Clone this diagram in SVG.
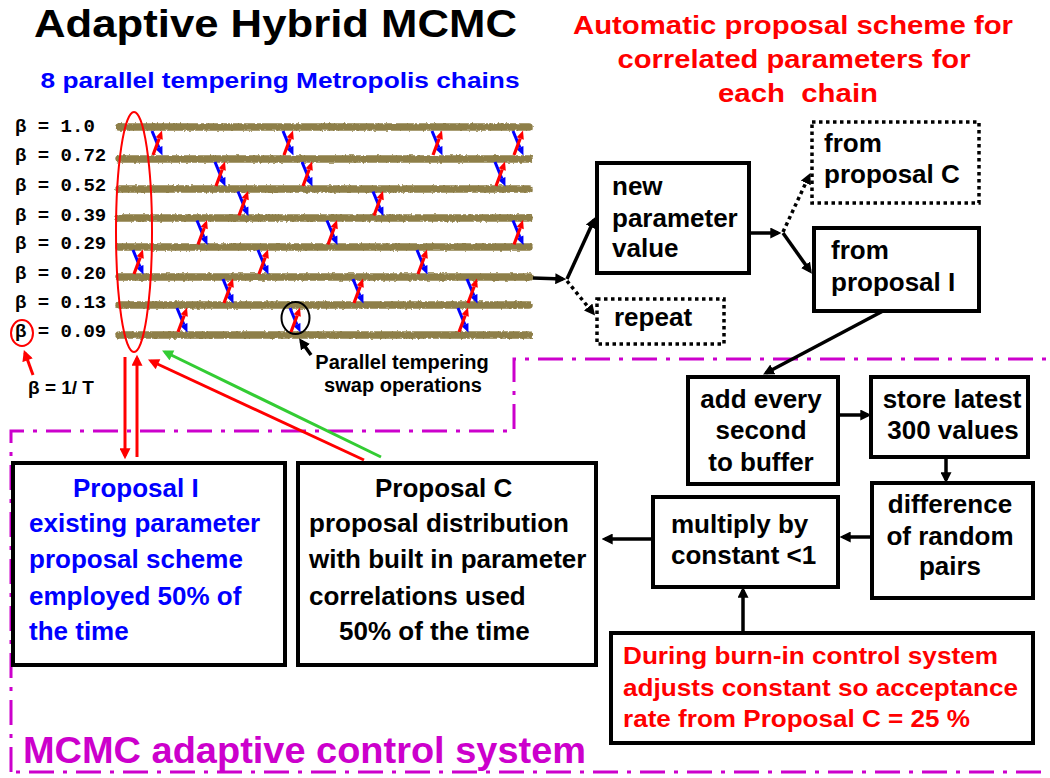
<svg xmlns="http://www.w3.org/2000/svg" width="1050" height="778" viewBox="0 0 1050 778">
  <style>
    text { font-family: "Liberation Sans", Arial, sans-serif; font-weight: bold; }
    .box { fill: #fff; stroke: #000; stroke-width: 4; }
    .dotbox { fill: #fff; stroke: #000; stroke-width: 3.5; stroke-dasharray: 3.5 3.5; }
    .t26 { font-size: 26px; fill: #000; }
    .blue26 { font-size: 26px; fill: #0000ff; }
    .red24 { font-size: 24.5px; fill: #ff0000; }
    .beta text { font-family: "Liberation Mono", "Courier New", monospace; font-size: 19px; font-weight: bold; fill: #000; }
    .chain { stroke: #8e7f48; stroke-width: 7.5; stroke-linecap: round; fill: none; }
    .conn { stroke: #000; stroke-width: 3.5; fill: none; marker-end: url(#ah); }
    .conn-dot { stroke: #000; stroke-width: 3.5; fill: none; stroke-dasharray: 3.5 3.5; marker-end: url(#ah); }
    .red-arrow { stroke: #ff0000; stroke-width: 3; fill: none; marker-end: url(#ahRed); }
    .green-arrow { stroke: #33cc33; stroke-width: 3; fill: none; marker-end: url(#ahGreen); }
    .boundary { fill: none; stroke: #cc00cc; stroke-width: 3; stroke-dasharray: 25 9 4 9; }
  </style>
  <defs>
    <marker id="ah" viewBox="0 0 10 10" refX="7" refY="5" markerWidth="11" markerHeight="11" markerUnits="userSpaceOnUse" orient="auto">
      <path d="M0,0 L10,5 L0,10 Z" fill="#000"/>
    </marker>
    <marker id="ahRed" viewBox="0 0 10 10" refX="7" refY="5" markerWidth="12" markerHeight="11" markerUnits="userSpaceOnUse" orient="auto">
      <path d="M0,0 L10,5 L0,10 Z" fill="#ff0000"/>
    </marker>
    <marker id="ahGreen" viewBox="0 0 10 10" refX="7" refY="5" markerWidth="12" markerHeight="11" markerUnits="userSpaceOnUse" orient="auto">
      <path d="M0,0 L10,5 L0,10 Z" fill="#33cc33"/>
    </marker>
    <!-- rough edges for the chain traces -->
    <filter id="rough" x="-2%" y="-100%" width="104%" height="300%">
      <feTurbulence type="fractalNoise" baseFrequency="0.35" numOctaves="2" seed="3" result="n"/>
      <feDisplacementMap in="SourceGraphic" in2="n" scale="3" xChannelSelector="R" yChannelSelector="G"/>
    </filter>
    <!-- swap operation: blue state moving down, red state moving up -->
    <g id="swap">
      <path d="M-5,-12 L1.9,4.6" stroke="#0000ff" stroke-width="3"/>
      <path d="M5.5,12.5 L5.4,3 L-1.6,6 Z" fill="#0000ff"/>
      <path d="M-4,12 L2.2,-4.5" stroke="#ff0000" stroke-width="3.2"/>
      <path d="M5,-12.5 L5.8,-3.2 L-1.3,-5.8 Z" fill="#ff0000"/>
    </g>
  </defs>

  <rect width="1050" height="778" fill="#fff"/>

  <!-- headings -->
  <g id="headings">
    <text x="34" y="37" font-size="39" fill="#000" textLength="483" lengthAdjust="spacingAndGlyphs">Adaptive Hybrid MCMC</text>
    <text x="40.5" y="87.5" font-size="22" fill="#0000ff" textLength="479" lengthAdjust="spacingAndGlyphs">8 parallel tempering Metropolis chains</text>
    <g fill="#ff0000" font-size="25" text-anchor="middle">
      <text x="793" y="34" textLength="440" lengthAdjust="spacingAndGlyphs">Automatic proposal scheme for</text>
      <text x="794" y="68" textLength="353" lengthAdjust="spacingAndGlyphs">correlated parameters for</text>
      <text x="798" y="102" textLength="160" lengthAdjust="spacingAndGlyphs" xml:space="preserve">each  chain</text>
    </g>
    <text x="23" y="763" font-size="36" fill="#cc00cc" textLength="563" lengthAdjust="spacingAndGlyphs">MCMC adaptive control system</text>
  </g>

  <!-- adaptive control region -->
  <path class="boundary" d="M11,772 L11,431 L514,431 L514,359 L1053,359 L1053,772 Z"/>

  <!-- temperature ladder -->
  <g id="chains">
    <g class="beta">
      <text x="15" y="132">β = 1.0</text>
      <text x="15" y="161">β = 0.72</text>
      <text x="15" y="191">β = 0.52</text>
      <text x="15" y="221">β = 0.39</text>
      <text x="15" y="249">β = 0.29</text>
      <text x="15" y="279">β = 0.20</text>
      <text x="15" y="308">β = 0.13</text>
      <text x="15" y="337">β = 0.09</text>
    </g>
    <g class="chain" filter="url(#rough)">
      <path d="M119,127 H529"/>
      <path d="M119,159 H529"/>
      <path d="M119,189 H529"/>
      <path d="M119,218 H529"/>
      <path d="M119,247 H529"/>
      <path d="M119,277 H530"/>
      <path d="M119,305 H529"/>
      <path d="M119,335 H529"/>
    </g>
    <g id="swaps">
      <use href="#swap" x="157" y="143"/>
      <use href="#swap" x="288" y="143"/>
      <use href="#swap" x="437" y="143"/>
      <use href="#swap" x="518" y="143"/>
      <use href="#swap" x="220" y="174"/>
      <use href="#swap" x="307" y="174"/>
      <use href="#swap" x="500" y="174"/>
      <use href="#swap" x="243" y="203.5"/>
      <use href="#swap" x="378" y="203.5"/>
      <use href="#swap" x="202" y="232.5"/>
      <use href="#swap" x="332" y="232.5"/>
      <use href="#swap" x="518" y="232.5"/>
      <use href="#swap" x="138" y="262"/>
      <use href="#swap" x="263" y="262"/>
      <use href="#swap" x="422" y="262"/>
      <use href="#swap" x="228" y="291"/>
      <use href="#swap" x="358" y="291"/>
      <use href="#swap" x="472" y="291"/>
      <use href="#swap" x="182" y="320"/>
      <use href="#swap" x="295" y="320"/>
      <use href="#swap" x="463" y="320"/>
    </g>
  </g>

  <!-- annotations on the ladder -->
  <g id="annotations">
    <ellipse cx="134" cy="232" rx="18" ry="120" fill="none" stroke="#ff0000" stroke-width="2"/>
    <ellipse cx="22" cy="333" rx="11" ry="13" fill="none" stroke="#ff0000" stroke-width="2"/>
    <ellipse cx="295.5" cy="318" rx="14" ry="16" fill="none" stroke="#000" stroke-width="2"/>
    <text x="28" y="394" font-size="19" fill="#000">β = 1/ T</text>
    <g font-size="20" fill="#000" text-anchor="middle">
      <text x="402" y="369">Parallel tempering</text>
      <text x="403" y="392">swap operations</text>
    </g>
  </g>

  <!-- proposal boxes -->
  <g id="proposal-i">
    <rect class="box" x="13" y="463" width="272" height="202"/>
    <g class="blue26">
      <text x="73" y="497">Proposal I</text>
      <text x="29" y="532">existing parameter</text>
      <text x="29" y="568">proposal scheme</text>
      <text x="29" y="605">employed 50% of</text>
      <text x="29" y="640">the time</text>
    </g>
  </g>
  <g id="proposal-c">
    <rect class="box" x="298" y="463" width="298" height="202"/>
    <g class="t26">
      <text x="375" y="497">Proposal C</text>
      <text x="309" y="532">proposal distribution</text>
      <text x="309" y="568">with built in parameter</text>
      <text x="309" y="605">correlations used</text>
      <text x="339" y="640">50% of the time</text>
    </g>
  </g>

  <!-- per-chain update -->
  <g id="new-value">
    <rect class="box" x="597" y="163" width="152" height="110" stroke-width="3.5"/>
    <g class="t26">
      <text x="612" y="195">new</text>
      <text x="612" y="227">parameter</text>
      <text x="612" y="257">value</text>
    </g>
  </g>
  <g id="repeat">
    <rect class="dotbox" x="597" y="299" width="127" height="45"/>
    <text class="t26" x="614" y="326">repeat</text>
  </g>
  <g id="from-c">
    <rect class="dotbox" x="812" y="122" width="167" height="81"/>
    <g class="t26">
      <text x="824" y="152">from</text>
      <text x="824" y="183">proposal C</text>
    </g>
  </g>
  <g id="from-i">
    <rect class="box" x="814" y="228" width="165" height="83" stroke-width="3.5"/>
    <g class="t26">
      <text x="831" y="259">from</text>
      <text x="831" y="291">proposal I</text>
    </g>
  </g>

  <!-- adaptive loop -->
  <g id="add-buffer">
    <rect class="box" x="688" y="377" width="150" height="107"/>
    <g class="t26" text-anchor="middle">
      <text x="761" y="408">add every</text>
      <text x="761" y="439">second</text>
      <text x="761" y="471">to buffer</text>
    </g>
  </g>
  <g id="store">
    <rect class="box" x="871" y="377" width="157" height="80"/>
    <g class="t26" text-anchor="middle">
      <text x="952" y="408">store latest</text>
      <text x="953" y="439">300 values</text>
    </g>
  </g>
  <g id="difference">
    <rect class="box" x="872" y="483" width="161" height="115"/>
    <g class="t26" text-anchor="middle">
      <text x="950" y="513">difference</text>
      <text x="950" y="545">of random</text>
      <text x="950" y="575">pairs</text>
    </g>
  </g>
  <g id="multiply">
    <rect class="box" x="653" y="497" width="185" height="90"/>
    <g class="t26">
      <text x="671" y="533">multiply by</text>
      <text x="671" y="564">constant &lt;1</text>
    </g>
  </g>
  <g id="burn-in">
    <rect class="box" x="611" y="633" width="422" height="110"/>
    <g class="red24">
      <text x="623" y="664" textLength="375" lengthAdjust="spacingAndGlyphs">During burn-in control system</text>
      <text x="623" y="696" textLength="395" lengthAdjust="spacingAndGlyphs">adjusts constant so acceptance</text>
      <text x="623" y="727" textLength="347" lengthAdjust="spacingAndGlyphs">rate from Proposal C = 25 %</text>
    </g>
  </g>

  <!-- connectors -->
  <g id="connectors">
    <path class="conn" d="M533,278 L563,279"/>
    <path class="conn" d="M567,279 L594,220"/>
    <path class="conn-dot" d="M567,281 L593,313"/>
    <path class="conn" d="M749,233 L778,233"/>
    <path class="conn" d="M783,233 L810,271"/>
    <path class="conn-dot" d="M783,232 L809,176"/>
    <path class="conn" d="M883,311 L766,373"/>
    <path class="conn" d="M838,415 L868,415"/>
    <path class="conn" d="M946,457 L946,480"/>
    <path class="conn" d="M872,537 L843,537"/>
    <path class="conn" d="M653,539 L605,539"/>
    <path class="conn" d="M743,633 L743,590"/>
    <path class="conn" d="M311,355 L301,341" stroke-width="2.5"/>
    <path class="red-arrow" d="M33,375 L25,353"/>
    <path class="red-arrow" d="M125,357 L125,456"/>
    <path class="red-arrow" d="M137,457 L137,358"/>
    <path class="red-arrow" d="M364,460 L151,361"/>
    <path class="green-arrow" d="M381,457 L165,352"/>
  </g>
</svg>
